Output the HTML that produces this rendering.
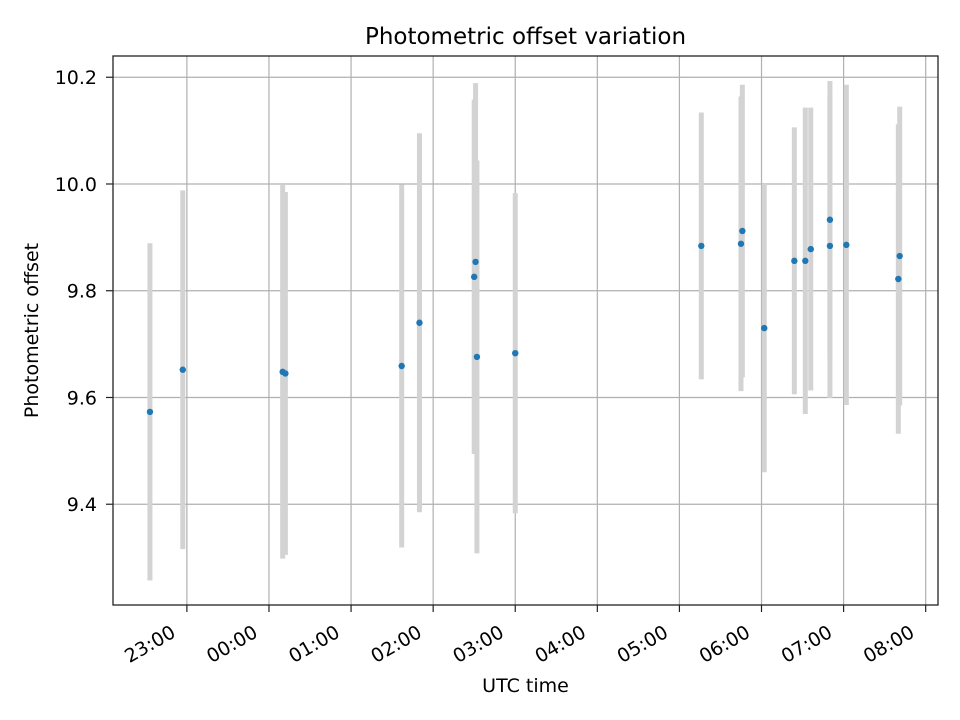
<!DOCTYPE html>
<html><head><meta charset="utf-8"><style>
body{margin:0;background:#fff}
svg{display:block;font-family:"DejaVu Sans","Liberation Sans",sans-serif}
</style></head><body>
<svg id="chart" width="960" height="720" viewBox="0 0 960 720"></svg>
<script>
const times = ["22:33","22:57","00:10","00:12","01:37","01:50","02:30","02:31","02:32","03:00","05:16","05:46","05:45","06:02","06:24","06:32","06:36","06:50","06:50","07:02","07:41","07:40"];
const offsets = [9.573,9.652,9.648,9.645,9.659,9.740,9.826,9.854,9.676,9.683,9.884,9.912,9.888,9.730,9.856,9.856,9.878,9.933,9.884,9.886,9.865,9.822];
const errors = [0.316,0.336,0.35,0.34,0.34,0.355,0.332,0.335,0.368,0.30,0.25,0.274,0.276,0.27,0.25,0.287,0.265,0.26,0.285,0.30,0.28,0.29];
const yTicks = [9.4,9.6,9.8,10.0,10.2];
const yTickLabels = ["9.4","9.6","9.8","10.0","10.2"];
const xTickLabels = ["23:00","00:00","01:00","02:00","03:00","04:00","05:00","06:00","07:00","08:00"];

const L=113,R=938,T=56,B=605;
const xMin=6,xMax=609,yMin=9.2112,yMax=10.2398;
function toMin(s){let [h,m]=s.split(':').map(Number);let v=h*60+m-22*60;if(v<0)v+=1440;return v;}
const xs=m=>L+(m-xMin)/(xMax-xMin)*(R-L);
const ys=v=>B-(v-yMin)/(yMax-yMin)*(B-T);
const svg=document.getElementById('chart');
const NS='http://www.w3.org/2000/svg';
function mk(tag,attrs,parent){const e=document.createElementNS(NS,tag);for(const k in attrs)e.setAttribute(k,attrs[k]);(parent||svg).appendChild(e);return e;}
const grid=mk('g',{});


xTickLabels.forEach(t=>{const x=xs(toMin(t));
 const l=mk('line',{x1:x,x2:x,y1:T,y2:B,stroke:'#b0b0b0','stroke-width':1.2},grid);
 
 
 const tk=mk('line',{x1:x,x2:x,y1:B,y2:B+7,stroke:'#222','stroke-width':1.2});
 
 
 const tx=mk('text',{x:0,y:0,'font-size':19,'text-anchor':'end',transform:`translate(${x-10},${B+31}) rotate(-30)`});
 tx.textContent=t;
 
 
});
yTicks.forEach((v,i)=>{const y=ys(v);
 const l=mk('line',{x1:L,x2:R,y1:y,y2:y,stroke:'#b0b0b0','stroke-width':1.2},grid);
 
 
 const tk=mk('line',{x1:L-7,x2:L,y1:y,y2:y,stroke:'#222','stroke-width':1.2});
 
 
 const tx=mk('text',{x:L-16,y:y+7,'font-size':19,'text-anchor':'end'});
 tx.textContent=yTickLabels[i];
 
 
});
const eb=mk('g',{});


times.forEach((t,i)=>{const x=xs(toMin(t));
 const l=mk('line',{x1:x,x2:x,y1:ys(offsets[i]+errors[i]),y2:ys(offsets[i]-errors[i]),stroke:'#d3d3d3','stroke-width':5},eb);
 
 
});
const pts=mk('g',{});


times.forEach((t,i)=>{
 const c=mk('circle',{cx:xs(toMin(t)),cy:ys(offsets[i]),r:3.2,fill:'#1f77b4'},pts);
 
 
});
const frame=mk('rect',{x:L,y:T,width:R-L,height:B-T,fill:'none',stroke:'#222','stroke-width':1.3});


const title=mk('text',{x:(L+R)/2,y:44,'font-size':23,'text-anchor':'middle'});
title.textContent='Photometric offset variation';


const xt=mk('text',{x:(L+R)/2,y:692,'font-size':19,'text-anchor':'middle'});
xt.textContent='UTC time';


const yt=mk('text',{x:0,y:0,'font-size':19,'text-anchor':'middle',transform:`translate(38,${(T+B)/2}) rotate(-90)`});
yt.textContent='Photometric offset';


</script>
</body></html>
